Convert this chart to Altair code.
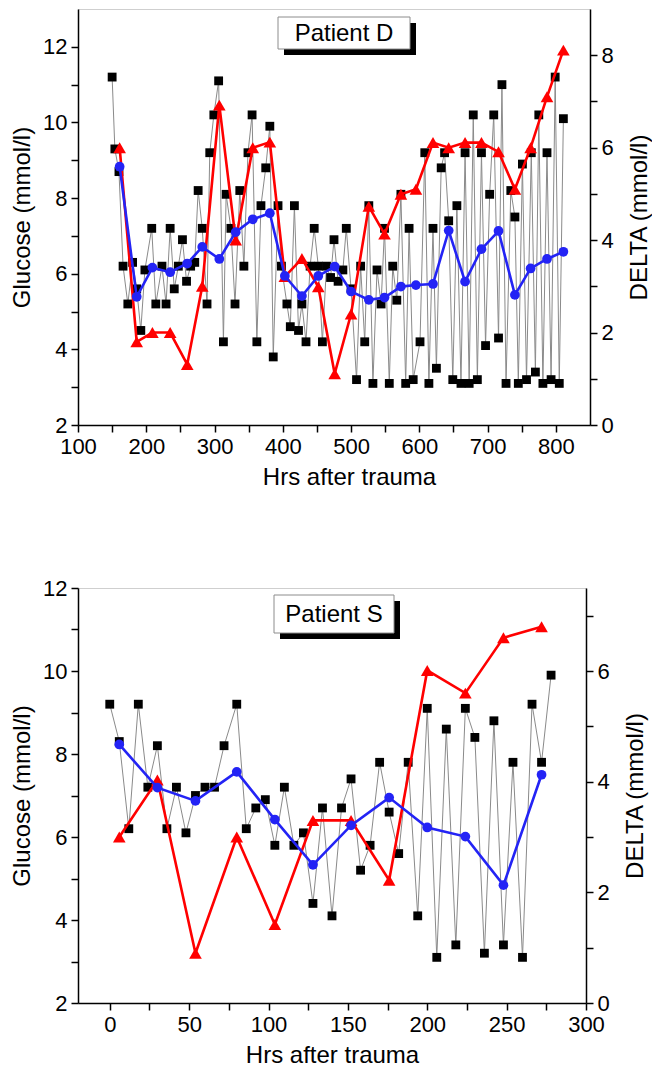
import altair as alt
import pandas as pd

# ---------------- Patient D ----------------
d_glu_hours = [150, 154, 160, 166, 173, 180, 186, 192, 198, 208, 214, 223, 229, 235, 241, 247, 253, 259,
               265, 271, 276, 282, 289, 293, 299, 306, 313, 317, 324, 330, 337, 343, 349, 355, 362, 368,
               375, 381, 386, 393, 398, 406, 411, 417, 423, 428, 434, 440, 446, 452, 458, 464, 470, 475,
               481, 488, 493, 500, 508, 514, 520, 526, 532, 538, 544, 549, 556, 561, 567, 573, 580, 585,
               591, 601, 608, 614, 620, 625, 632, 637, 643, 649, 655, 661, 667, 673, 679, 685, 691, 697,
               703, 709, 716, 721, 727, 734, 740, 745, 751, 757, 764, 770, 775, 781, 787, 793, 799, 805, 811]
d_glu = [11.2, 9.3, 8.7, 6.2, 5.2, 6.3, 5.6, 4.5, 6.1, 7.2, 5.2, 6.2, 5.2, 7.2, 5.6, 6.2, 6.9, 5.8,
         6.2, 6.3, 8.2, 7.2, 5.2, 9.2, 10.2, 11.1, 4.2, 8.1, 7.2, 5.2, 8.2, 6.2, 9.2, 10.2, 4.2, 7.8,
         8.8, 9.9, 3.8, 7.8, 6.2, 5.2, 4.6, 7.8, 4.5, 5.2, 4.2, 6.2, 7.2, 6.2, 4.2, 6.2, 5.9, 6.9,
         5.8, 6.1, 7.2, 5.6, 3.2, 6.2, 4.2, 7.8, 3.1, 6.1, 5.2, 7.2, 3.1, 6.2, 5.3, 8.1, 3.1, 7.2,
         3.2, 4.2, 9.2, 3.1, 7.2, 3.5, 8.8, 9.2, 7.4, 3.2, 7.8, 3.1, 9.2, 3.1, 10.2, 3.2, 9.2, 4.1,
         8.1, 10.2, 4.3, 11.0, 3.1, 8.2, 7.5, 3.1, 8.9, 3.2, 9.2, 3.4, 10.2, 3.1, 9.2, 3.2, 11.2, 3.1, 10.1]
d_day_hours = [161, 186, 209, 235, 260, 282, 307, 331, 356, 381, 403, 428, 452, 476, 500, 526, 549, 573,
               595, 620, 643, 667, 691, 716, 740, 763, 787, 811]
d_mean = [8.83, 5.39, 6.16, 6.04, 6.27, 6.71, 6.39, 7.1, 7.44, 7.6, 5.94, 5.41, 5.94, 6.19, 5.53, 5.31,
          5.37, 5.66, 5.7, 5.73, 7.14, 5.79, 6.65, 7.13, 5.44, 6.14, 6.39, 6.58]
d_delta = [6.0, 1.8, 2.0, 2.0, 1.31, 3.0, 6.92, 4.0, 6.0, 6.12, 3.21, 3.6, 2.99, 1.11, 2.4, 4.73, 4.13,
           4.99, 5.1, 6.11, 6.0, 6.11, 6.11, 5.91, 5.1, 6.0, 7.1, 8.11]

# ---------------- Patient S ----------------
s_glu_hours = [0, 6, 12, 18, 24, 30, 36, 42, 48, 54, 60, 66, 72, 80, 86, 92, 98, 104, 110, 116, 122,
               128, 134, 140, 146, 152, 158, 164, 170, 176, 182, 188, 194, 200, 206, 212, 218, 224, 230,
               236, 242, 248, 254, 260, 266, 272, 278]
s_glu = [9.2, 8.3, 6.2, 9.2, 7.2, 8.2, 6.2, 7.2, 6.1, 7.0, 7.2, 7.2, 8.2, 9.2, 6.2, 6.7, 6.9, 5.8, 7.2,
         5.8, 6.1, 4.4, 6.7, 4.1, 6.7, 7.4, 5.2, 5.8, 7.8, 6.6, 5.6, 7.8, 4.1, 9.1, 3.1, 8.6, 3.4, 9.1,
         8.4, 3.2, 8.8, 3.4, 7.8, 3.1, 9.2, 7.8, 9.9]
s_day_hours = [6, 30, 54, 80, 104, 128, 152, 176, 200, 224, 248, 272]
s_mean = [8.23, 7.19, 6.87, 7.57, 6.42, 5.33, 6.28, 6.95, 6.23, 6.01, 4.84, 7.5]
s_delta = [3.0, 4.03, 0.9, 3.0, 1.42, 3.3, 3.3, 2.22, 6.01, 5.6, 6.6, 6.8]

FONT = "Liberation Sans"
RED = "#ff0000"
BLUE = "#2323f5"


def panel(glu_h, glu, day_h, mean, delta, xdom, xticks, xstep, gdom, gticks, ddom, dticks,
          w, h, label, box, title_dx=0):
    sq = pd.DataFrame({"Hours": glu_h, "Glucose": glu})
    av = pd.DataFrame({"Hours": day_h, "Glucose": mean})
    de = pd.DataFrame({"Hours": day_h, "DELTA": delta})

    x = alt.X("Hours:Q",
              scale=alt.Scale(domain=xdom, nice=False, zero=False),
              axis=alt.Axis(values=xticks, title="Hrs after trauma",
                            labelExpr=f"datum.value % {xstep} === 0 ? datum.label : ''",
                            labelFlush=False, labelOverlap=False, titlePadding=8,
                            titleX=w / 2 + title_dx))
    gscale = alt.Scale(domain=gdom, nice=False, zero=False)
    dscale = alt.Scale(domain=ddom, nice=False, zero=False)
    yg = alt.Y("Glucose:Q", scale=gscale,
               axis=alt.Axis(values=gticks, orient="left", title="Glucose (mmol/l)",
                             labelExpr="datum.value % 2 === 0 ? datum.label : ''",
                             labelOverlap=False, titlePadding=8))
    yd = alt.Y("DELTA:Q", scale=dscale,
               axis=alt.Axis(values=dticks, orient="right", title="DELTA (mmol/l)",
                             labelExpr="datum.value % 2 === 0 ? datum.label : ''",
                             labelOverlap=False, titleAngle=270, titleBaseline="top",
                             titlePadding=14))
    yb = alt.Y("Glucose:Q", scale=gscale, axis=None)

    bs = alt.Chart(sq)
    glayer = alt.layer(
        bs.mark_line(color="#8a8a8a", strokeWidth=1).encode(x=x, y=yg),
        bs.mark_point(shape="square", filled=True, color="black", size=78, opacity=1).encode(x=x, y=yg),
    )
    br = alt.Chart(de)
    rlayer = alt.layer(
        br.mark_line(color=RED, strokeWidth=2.6).encode(x=x, y=yd),
        br.mark_point(shape="triangle-up", filled=True, color=RED, size=160, opacity=1).encode(x=x, y=yd),
    )
    bb = alt.Chart(av)
    blayer = alt.layer(
        bb.mark_line(color=BLUE, strokeWidth=2.6).encode(x=x, y=yb),
        bb.mark_point(shape="circle", filled=True, color=BLUE, size=95, opacity=1).encode(x=x, y=yb),
    )

    bx, by, bx2, by2, off = box
    lab = alt.Chart(pd.DataFrame({"t": [label]}))
    shadow = lab.mark_rect(color="black").encode(
        x=alt.value(bx + off), x2=alt.value(bx2 + off), y=alt.value(by + off), y2=alt.value(by2 + off))
    rect = lab.mark_rect(fill="white", stroke="#8c8c8c", strokeWidth=1).encode(
        x=alt.value(bx), x2=alt.value(bx2), y=alt.value(by), y2=alt.value(by2))
    text = lab.mark_text(font=FONT, fontSize=24, color="black").encode(
        x=alt.value((bx + bx2) / 2), y=alt.value((by + by2) / 2 + 1), text="t:N")

    return alt.layer(glayer, rlayer, blayer, shadow, rect, text).resolve_scale(
        y="independent").properties(width=w, height=h)


top = panel(d_glu_hours, d_glu, d_day_hours, d_mean, d_delta,
            [100, 850], list(range(100, 801, 50)), 100,
            [2, 13], list(range(2, 13)), [0, 9], list(range(0, 9)),
            512, 416, "Patient D", (200, 8, 332, 40, 6), title_dx=15)
bottom = panel(s_glu_hours, s_glu, s_day_hours, s_mean, s_delta,
               [-20, 300], list(range(0, 301, 25)), 50,
               [2, 12], list(range(2, 13)), [0, 7.5], list(range(0, 8)),
               508, 415, "Patient S", (196, 7, 316, 45, 6))

chart = alt.vconcat(top, bottom, spacing=86).properties(
    padding={"left": 2, "top": 0, "right": 0, "bottom": 0}
).configure_view(stroke="#cfcfcf", strokeWidth=1).configure_axis(
    domainColor="black", domainWidth=1.5, tickColor="black", tickWidth=1.5, tickSize=7,
    labelFont=FONT, labelFontSize=22, labelColor="black", labelPadding=4,
    titleFont=FONT, titleFontSize=24, titleFontWeight="normal", titleColor="black",
    grid=False
)

chart.save("out.html", embed_options={"renderer": "svg", "actions": False})
